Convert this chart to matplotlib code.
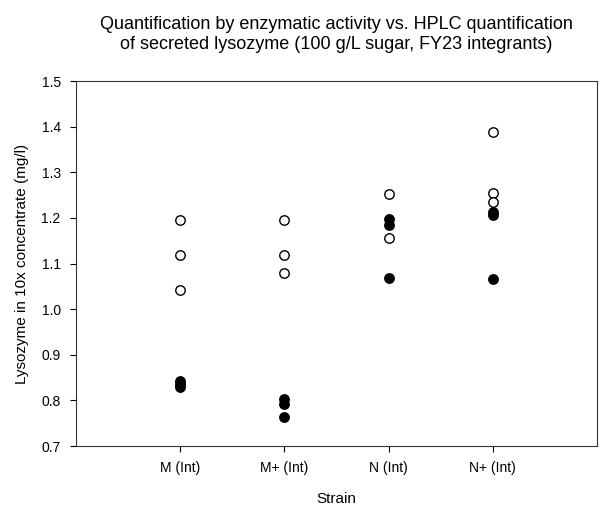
import matplotlib
matplotlib.use("Agg")
import matplotlib.pyplot as plt

plt.rcParams['font.family'] = ['Liberation Sans', 'DejaVu Sans']

strains = ["M (Int)", "M+ (Int)", "N (Int)", "N+ (Int)"]

# open circles
open_vals = [
    [1.196, 1.119, 1.042],
    [1.196, 1.119, 1.079],
    [1.253, 1.156],
    [1.389, 1.255, 1.235],
]
# filled circles
filled_vals = [
    [0.842, 0.836, 0.830],
    [0.803, 0.792, 0.764],
    [1.197, 1.184, 1.068],
    [1.212, 1.207, 1.066],
]

fig = plt.figure(figsize=(6.0, 5.05), dpi=100)
ax = fig.add_axes([0.1267, 0.1168, 0.8683, 0.7228])

for i, vals in enumerate(open_vals):
    ax.plot([i + 1] * len(vals), vals, linestyle='none', marker='o', ms=6.8,
            mfc='white', mec='black', mew=1.0, zorder=3)
for i, vals in enumerate(filled_vals):
    ax.plot([i + 1] * len(vals), vals, linestyle='none', marker='o', ms=6.8,
            mfc='black', mec='black', mew=1.0, zorder=4)

ax.set_xlim(0, 5)
ax.set_ylim(0.7, 1.5)
ax.set_xticks(range(1, len(strains) + 1))
ax.set_xticklabels(strains)
ax.set_yticks([0.7, 0.8, 0.9, 1.0, 1.1, 1.2, 1.3, 1.4, 1.5])
ax.set_yticklabels(["0.7", "0.8", "0.9", "1.0", "1.1", "1.2", "1.3", "1.4", "1.5"])
ax.tick_params(direction='out', length=4, width=0.8, labelsize=10, pad=7)

for s in ax.spines.values():
    s.set_linewidth(0.8)
    s.set_color('#333333')

ax.set_xlabel("Strain", fontsize=11, labelpad=12)
ax.set_ylabel("Lysozyme in 10x concentrate (mg/l)", fontsize=11, labelpad=9)
ax.set_title("Quantification by enzymatic activity vs. HPLC quantification\n"
             "of secreted lysozyme (100 g/L sugar, FY23 integrants)",
             fontsize=13, pad=23, linespacing=1.2)

fig.savefig("out.png", dpi=100)
